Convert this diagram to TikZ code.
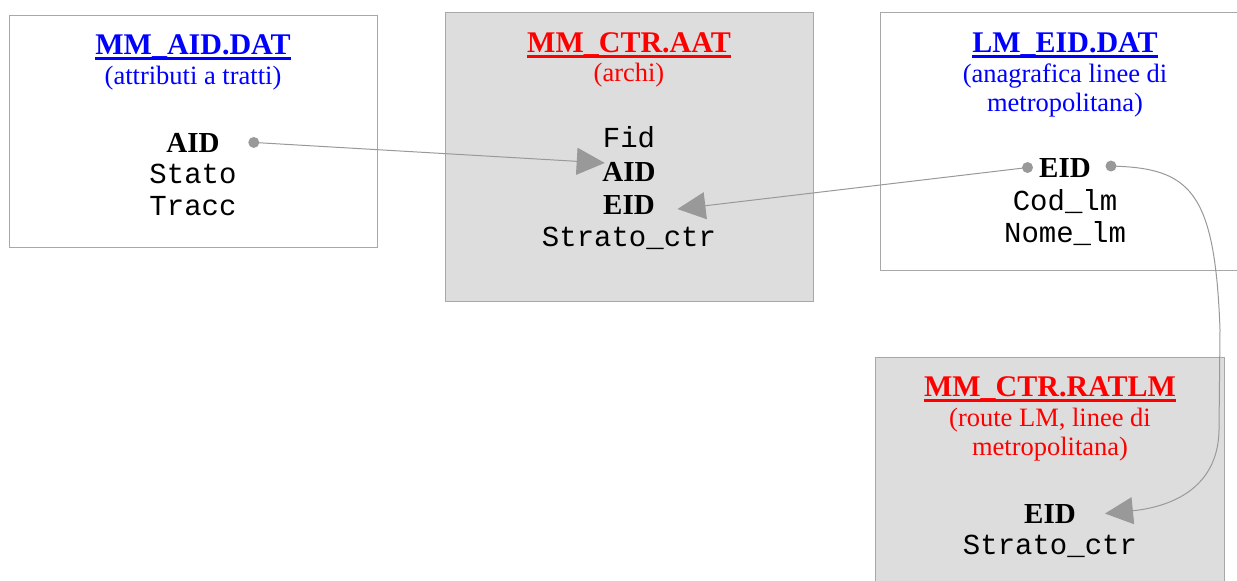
\documentclass[tikz,border=0pt]{standalone}
\usepackage{fontspec}
\setmainfont{Liberation Serif}
\setmonofont{Liberation Mono}
\usepackage{tikz}
\usetikzlibrary{arrows.meta}
\usetikzlibrary{positioning}
\definecolor{tabgray}{HTML}{DDDDDD}
\definecolor{bordo}{HTML}{A8A8A8}
\definecolor{freccia}{HTML}{999999}
\newcommand{\sottolinea}[1]{\setbox0\hbox{#1}\rlap{\rule[-5.5pt]{\wd0}{2.5pt}}\box0}

\begin{document}
\begin{tikzpicture}[
  x=1pt,y=-1pt,
  tabella/.style={draw=bordo,line width=1pt,inner sep=0pt},
  archivio/.style={tabella,fill=white},
  vista/.style={tabella,fill=tabgray},
  titolo/.style={anchor=base,inner sep=0pt,font=\fontsize{30}{32}\selectfont\bfseries},
  nota/.style={anchor=base,inner sep=0pt,font=\fontsize{26.5}{29.5}\selectfont},
  chiave/.style={anchor=base,inner sep=0pt,font=\fontsize{29}{32}\selectfont\bfseries},
  campo/.style={anchor=base,inner sep=0pt,font=\fontsize{29}{32}\selectfont\ttfamily},
  punto/.style={circle,fill=freccia,inner sep=0pt,minimum size=11pt},
  legame/.style={-{Triangle[length=28pt,width=27pt]},draw=freccia,line width=1pt}]

  \useasboundingbox (0,0) rectangle (1237,581);

  % Tables
  \node[archivio,minimum width=368pt,minimum height=232pt] (aid) at (193,131) {};
  \node[vista,minimum width=368pt,minimum height=289pt] (ctr) at (629,156.5) {};
  \node[archivio,minimum width=368pt,minimum height=258pt] (eid) at (1064,141) {};
  \node[vista,minimum width=349pt,minimum height=246pt] (ratlm) at (1049.5,480) {};

  % MM_AID.DAT
  \node[titolo,text=blue] (aidT) at (193,54) {\sottolinea{MM\_AID.DAT}};
  \node[nota,text=blue] (aidN) at (193,84) {(attributi a tratti)};
  \node[chiave] (aAID) at (193,152) {AID};
  \node[campo] (aStato) at (193,183.5) {Stato};
  \node[campo] (aTracc) at (193,215) {Tracc};

  % MM_CTR.AAT
  \node[titolo,text=red] (ctrT) at (629,52) {\sottolinea{MM\_CTR.AAT}};
  \node[nota,text=red] (ctrN) at (629,81) {(archi)};
  \node[campo] (bFid) at (629,147) {Fid};
  \node[chiave] (bAID) at (629,181) {AID};
  \node[chiave] (bEID) at (629,214) {EID};
  \node[campo] (bStrato) at (629,246) {Strato\_ctr};

  % LM_EID.DAT
  \node[titolo,text=blue] (eidT) at (1065,52) {\sottolinea{LM\_EID.DAT}};
  \node[nota,text=blue] (eidN) at (1065,82) {(anagrafica linee di};
  \node[nota,text=blue] (eidM) at (1065,111) {metropolitana)};
  \node[chiave] (cEID) at (1065,177) {EID};
  \node[campo] (cCod) at (1065,210) {Cod\_lm};
  \node[campo] (cNome) at (1065,242) {Nome\_lm};

  % MM_CTR.RATLM
  \node[titolo,text=red] (ratlmT) at (1050,396) {\sottolinea{MM\_CTR.RATLM}};
  \node[nota,text=red] (ratlmN) at (1050,426) {(route LM, linee di};
  \node[nota,text=red] (ratlmM) at (1050,455) {metropolitana)};
  \node[chiave] (dEID) at (1050,523) {EID};
  \node[campo] (dStrato) at (1050,554) {Strato\_ctr};

  % Links
  \node[punto] (pAID) at ([xshift=34pt]aAID.east) {};
  \node[punto] (pEIDs) at ([xshift=-11.5pt]cEID.west) {};
  \node[punto] (pEIDd) at ([xshift=20pt,yshift=1.5pt]cEID.east) {};

  \draw[legame] (pAID.center) -- ([xshift=2.5pt,yshift=8.5pt]bAID.west);
  \draw[legame] (pEIDs.center) -- ([xshift=22.5pt,yshift=-4.5pt]bEID.east);
  \draw[legame] (pEIDd.center) .. controls (1190,168) and (1215,190) .. (1220,330)
     -- (1219,430) .. controls (1218,495) and (1160,508) .. ([xshift=29pt]dEID.east);
\end{tikzpicture}
\end{document}
